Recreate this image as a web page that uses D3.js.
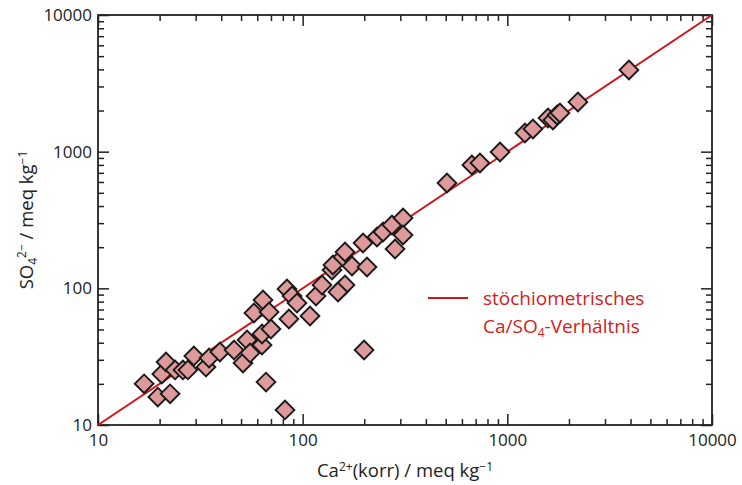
<!DOCTYPE html>
<html><head><meta charset="utf-8">
<script src="https://cdn.jsdelivr.net/npm/d3@7"></script>
<style>
body{margin:0;background:#fff}
text{font-family:"Open Sans",sans-serif}
</style>
</head><body>
<svg id="c" width="742" height="485"></svg>
<script>
// Ca2+(korr) [meq/kg]
const caKorr = [16.8,19.6,22.5,20.5,21.5,23.8,26.0,27.5,29.4,33.7,34.9,39.4,46.2,51.1,53.5,55.3,63.3,63.3,70.0,66.2,
  82.0,57.8,64.0,68.5,83.8,85.7,88.7,93.8,108.6,116.2,124.3,152.1,161.0,139.1,140.6,157.4,161.0,174.2,197.2,206.2,
  199.5,230.7,247.0,273.2,309.3,309.3,282.7,507,671,735,921,1219,1334,1580,1671,1749,1807,2213,3928,148.8];
// SO4 2- [meq/kg]
const so4 = [20.0,16.0,16.9,23.6,28.9,25.3,25.3,25.3,32.0,26.6,30.9,34.2,35.4,28.4,41.9,33.6,38.5,46.3,50.4,20.6,
  12.9,66.0,82.2,67.1,98.9,59.7,87.9,78.1,62.8,87.9,105.8,97.3,105.8,136.2,148.2,169.5,184.5,145.6,214.6,143.3,
  35.4,237.5,258.3,290.6,327.2,245.6,194.0,590,798,826,995,1370,1465,1763,1706,1855,1919,2307,3960,94.0];
const tickValues = [10,100,1000,10000];
const ratioLine = [10,10000];
const legendLines = ["stöchiometrisches","Ca/SO|4|-Verhältnis"];

const svg = d3.select("#c");
const L=98, R=712, T=15, B=425;
const x = d3.scaleLog().domain([10,10000]).range([L,R]);
const y = d3.scaleLog().domain([10,10000]).range([B,T]);
const axisCol="#222";

const minorX = x.ticks().filter(v=>!tickValues.includes(v));
const minorY = y.ticks().filter(v=>!tickValues.includes(v));

function styleAxis(g){ g.select(".domain").remove(); g.selectAll(".tick line").attr("stroke",axisCol).attr("stroke-width",1.5); g.selectAll("text").attr("fill","#222").style("font-size","17px").style("font-family","'Open Sans',sans-serif"); }

// major ticks with labels
svg.append("g").attr("transform",`translate(0,${B})`)
  .call(d3.axisBottom(x).tickValues(tickValues).tickFormat(d3.format("d")).tickSizeInner(-11).tickSizeOuter(0).tickPadding(9))
  .call(styleAxis);
svg.append("g").attr("transform",`translate(${L},0)`)
  .call(d3.axisLeft(y).tickValues(tickValues).tickFormat(d3.format("d")).tickSizeInner(-11).tickSizeOuter(0).tickPadding(6))
  .call(styleAxis);
svg.append("g").attr("transform",`translate(0,${T})`)
  .call(d3.axisTop(x).tickValues(tickValues).tickFormat("").tickSizeInner(-11).tickSizeOuter(0)).call(styleAxis);
svg.append("g").attr("transform",`translate(${R},0)`)
  .call(d3.axisRight(y).tickValues(tickValues).tickFormat("").tickSizeInner(-11).tickSizeOuter(0)).call(styleAxis);
// minor ticks
svg.append("g").attr("transform",`translate(0,${B})`)
  .call(d3.axisBottom(x).tickValues(minorX).tickFormat("").tickSizeInner(-6).tickSizeOuter(0)).call(styleAxis);
svg.append("g").attr("transform",`translate(0,${T})`)
  .call(d3.axisTop(x).tickValues(minorX).tickFormat("").tickSizeInner(-6).tickSizeOuter(0)).call(styleAxis);
svg.append("g").attr("transform",`translate(${L},0)`)
  .call(d3.axisLeft(y).tickValues(minorY).tickFormat("").tickSizeInner(-6).tickSizeOuter(0)).call(styleAxis);
svg.append("g").attr("transform",`translate(${R},0)`)
  .call(d3.axisRight(y).tickValues(minorY).tickFormat("").tickSizeInner(-6).tickSizeOuter(0)).call(styleAxis);

// frame
svg.append("rect").attr("x",L).attr("y",T).attr("width",R-L).attr("height",B-T)
  .attr("fill","none").attr("stroke",axisCol).attr("stroke-width",1.8);

// 1:1 line
svg.append("line").attr("x1",x(ratioLine[0])).attr("y1",y(ratioLine[0]))
  .attr("x2",x(ratioLine[1])).attr("y2",y(ratioLine[1]))
  .attr("stroke","#d0161b").attr("stroke-width",2);

// points
const sym = d3.symbol().type(d3.symbolSquare).size(175);
svg.append("g").selectAll("path").data(caKorr.map((c,i)=>[c,so4[i]])).join("path")
  .attr("d",sym)
  .attr("transform",d=>`translate(${x(d[0])},${y(d[1])}) rotate(45)`)
  .attr("fill","#de9a9a").attr("stroke","#1a1a1a").attr("stroke-width",1.9);

// legend
const lg = svg.append("g");
lg.append("line").attr("x1",428).attr("x2",468).attr("y1",298).attr("y2",298).attr("stroke","#d0161b").attr("stroke-width",2);
lg.append("text").attr("x",483).attr("y",305).attr("fill","#d42020").style("font-size","19px").text(legendLines[0]);
const parts = legendLines[1].split("|");
const t2 = lg.append("text").attr("x",483).attr("y",333).attr("fill","#d42020").style("font-size","19px");
t2.append("tspan").text(parts[0]);
t2.append("tspan").attr("dy",4).style("font-size","12px").text(parts[1]);
t2.append("tspan").attr("dy",-4).text(parts[2]);

// axis titles
const xt = svg.append("text").attr("x",(L+R)/2).attr("y",477).attr("text-anchor","middle").attr("fill","#222").style("font-size","18.5px");
xt.append("tspan").text("Ca");
xt.append("tspan").attr("dy",-6).style("font-size","12px").text("2+");
xt.append("tspan").attr("dy",6).text("(korr) / meq kg");
xt.append("tspan").attr("dy",-6).style("font-size","12px").text("−1");

const yt = svg.append("text").attr("transform",`translate(33,${(T+B)/2}) rotate(-90)`).attr("text-anchor","middle").attr("fill","#222").style("font-size","18.5px");
yt.append("tspan").text("SO");
yt.append("tspan").attr("dy",4).style("font-size","12px").text("4");
yt.append("tspan").attr("dy",-11).style("font-size","12px").text("2−");
yt.append("tspan").attr("dy",7).text(" / meq kg");
yt.append("tspan").attr("dy",-6).style("font-size","12px").text("−1");
</script>
</body></html>
